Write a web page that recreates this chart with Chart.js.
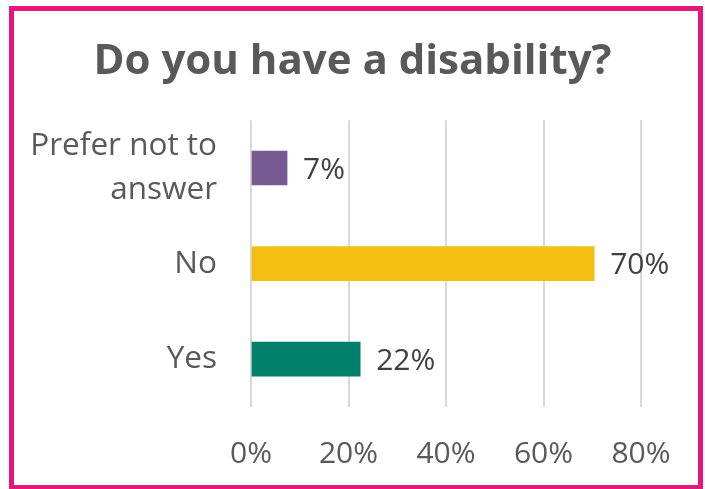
<!DOCTYPE html>
<html>
<head>
<meta charset="utf-8">
<script src="https://cdn.jsdelivr.net/npm/chart.js@4"></script>
<style>
  html, body { margin: 0; padding: 0; background: #ffffff; }
  #wrap { position: relative; width: 705px; height: 489px; overflow: hidden; }
  #frame {
    position: absolute; left: 9px; top: 6px; width: 694px; height: 484px;
    box-sizing: border-box; border: 5px solid #E4187A; pointer-events: none;
  }
</style>
</head>
<body>
<div id="wrap">
  <canvas id="barChart" width="705" height="489"></canvas>
  <div id="frame"></div>
</div>
<script>
// ===== data =====
const categories = [["Prefer not to", "answer"], "No", "Yes"];
const values = [7.4, 70.4, 22.4]; // percent
const barColors = ["#785B94", "#F5BE12", "#00806B"];
const axisMax = 80;
const axisStep = 20;

Chart.defaults.font.family = "'Open Sans', sans-serif";

// draws "7%" etc. just right of each bar end
const valueLabels = {
  id: "valueLabels",
  afterDatasetsDraw(chart) {
    const ctx = chart.ctx;
    const meta = chart.getDatasetMeta(0);
    ctx.save();
    ctx.font = "30px 'Open Sans', sans-serif";
    ctx.fillStyle = "#404040";
    ctx.textAlign = "left";
    ctx.textBaseline = "middle";
    meta.data.forEach((bar, i) => {
      ctx.fillText(Math.round(values[i]) + "%", bar.x + 16, bar.y + 2);
    });
    ctx.restore();
  }
};

const ctx = document.getElementById("barChart").getContext("2d");

new Chart(ctx, {
  type: "bar",
  data: {
    labels: categories,
    datasets: [
      {
        data: values,
        backgroundColor: barColors,
        barThickness: 34
      }
    ]
  },
  options: {
    indexAxis: "y",
    responsive: false,
    animation: false,
    layout: { padding: 0 },
    plugins: {
      legend: { display: false },
      tooltip: { enabled: false },
      title: {
        display: true,
        text: "Do you have a disability?",
        color: "#595959",
        font: { size: 42, weight: "bold" },
        padding: { top: 37, bottom: 32.8 }
      }
    },
    scales: {
      x: {
        min: 0,
        max: axisMax,
        afterFit(scale) { scale.height = 82; },
        ticks: {
          stepSize: axisStep,
          color: "#595959",
          font: { size: 30 },
          padding: 29.5,
          callback: (v) => v + "%"
        },
        grid: { color: "#D9D9D9", lineWidth: 2, drawTicks: false },
        border: { display: false }
      },
      y: {
        afterFit(scale) { scale.width = 251; },
        ticks: {
          color: "#595959",
          font: { size: 31.5, lineHeight: 1.37 },
          padding: 34
        },
        grid: { display: false, drawTicks: false },
        border: { display: false }
      },
      // empty right-hand strip so the plot ends at 80% while the title stays centred on the page
      spacer: {
        axis: "y",
        type: "category",
        position: "right",
        afterFit(scale) { scale.width = 64; },
        ticks: { display: false },
        grid: { display: false, drawTicks: false },
        border: { display: false }
      }
    }
  },
  plugins: [valueLabels]
});
</script>
</body>
</html>
